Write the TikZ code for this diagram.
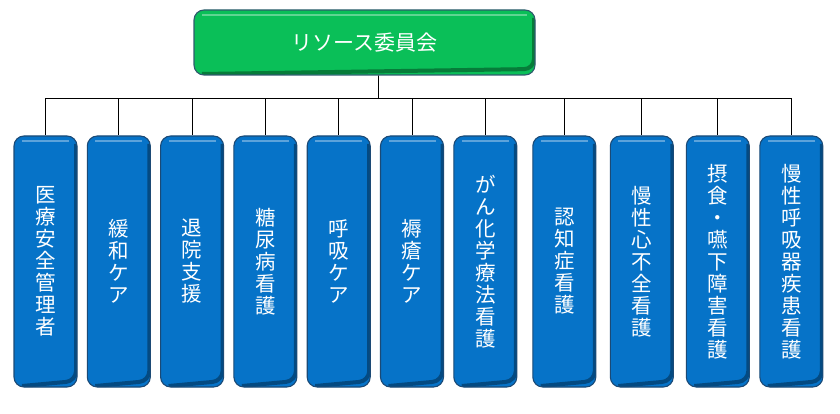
\documentclass[tikz,border=0pt]{standalone}
\usepackage{fontspec}
\setmainfont{Noto Sans CJK JP}
\usetikzlibrary{positioning}

\definecolor{iinkai}{HTML}{0ABF58}
\definecolor{iinkaiedge}{HTML}{2F5A6E}
\definecolor{bukai}{HTML}{0673C8}
\definecolor{bukaiedge}{HTML}{1B4A76}

\tikzset{
  bevel/.style={rounded corners=10pt, line width=1.1pt,
    path picture={
      \draw[white, opacity=.35, line width=2.5pt]
        ([xshift=8pt,yshift=-5pt]path picture bounding box.north west) --
        ([xshift=-8pt,yshift=-5pt]path picture bounding box.north east);
      \draw[black, opacity=.35, line width=4pt]
        ([xshift=-1pt,yshift=-8pt]path picture bounding box.north east) --
        ([xshift=-1pt,yshift=6pt]path picture bounding box.south east) --
        ([xshift=8pt,yshift=1pt]path picture bounding box.south west);
    }},
  head/.style={bevel, fill=iinkai, draw=iinkaiedge, text=white,
    minimum width=341pt, minimum height=65pt,
    font=\fontsize{21}{22}\selectfont},
  wg/.style={bevel, fill=bukai, draw=bukaiedge, text=white,
    minimum width=63pt, minimum height=251pt, inner sep=0pt, align=center,
    font=\fontsize{20.5}{22}\selectfont},
  link/.style={draw=black, line width=0.9pt}
}

\begin{document}
\begin{tikzpicture}
[ x=1pt, y=-1pt
, node distance=73.3pt
]
\useasboundingbox (0,0) rectangle (840,414);

\node[head] (iinkai) at (364.5,42.5) {リソース委員会};

\node[wg] (iryo) at (45.5,261.5) {医\\療\\安\\全\\管\\理\\者};
\node[wg, right of=iryo]  (kanwa)  {緩\\和\\ケ\\ア};
\node[wg, right of=kanwa] (taiin)  {退\\院\\支\\援};
\node[wg, right of=taiin] (tonyo)  {糖\\尿\\病\\看\\護};
\node[wg, right of=tonyo] (kokyu)  {呼\\吸\\ケ\\ア};
\node[wg, right of=kokyu] (jokuso) {褥\\瘡\\ケ\\ア};
\node[wg, right of=jokuso] (gan)   {が\\ん\\化\\学\\療\\法\\看\\護};
\node[wg, right of=gan, xshift=5.7pt]    (ninchi) {認\\知\\症\\看\\護};
\node[wg, right of=ninchi, xshift=4.2pt] (shinfu) {慢\\性\\心\\不\\全\\看\\護};
\node[wg, right of=shinfu, xshift=2.7pt] (sessho) {摂\\食\\・\\嚥\\下\\障\\害\\看\\護};
\node[wg, right of=sessho, xshift=0.2pt] (manko)  {慢\\性\\呼\\吸\\器\\疾\\患\\看\\護};

% bus from the committee to each group
\draw[link] ([xshift=13.5pt]iinkai.south) -- ++(0,23) -| (iryo.north);
\draw[link] ([xshift=13.5pt]iinkai.south) -- ++(0,23) -| (kanwa.north);
\draw[link] ([xshift=13.5pt]iinkai.south) -- ++(0,23) -| (taiin.north);
\draw[link] ([xshift=13.5pt]iinkai.south) -- ++(0,23) -| (tonyo.north);
\draw[link] ([xshift=13.5pt]iinkai.south) -- ++(0,23) -| (kokyu.north);
\draw[link] ([xshift=13.5pt]iinkai.south) -- ++(0,23) -| (jokuso.north);
\draw[link] ([xshift=13.5pt]iinkai.south) -- ++(0,23) -| (gan.north);
\draw[link] ([xshift=13.5pt]iinkai.south) -- ++(0,23) -| (ninchi.north);
\draw[link] ([xshift=13.5pt]iinkai.south) -- ++(0,23) -| (shinfu.north);
\draw[link] ([xshift=13.5pt]iinkai.south) -- ++(0,23) -| (sessho.north);
\draw[link] ([xshift=13.5pt]iinkai.south) -- ++(0,23) -| (manko.north);

\end{tikzpicture}
\end{document}
